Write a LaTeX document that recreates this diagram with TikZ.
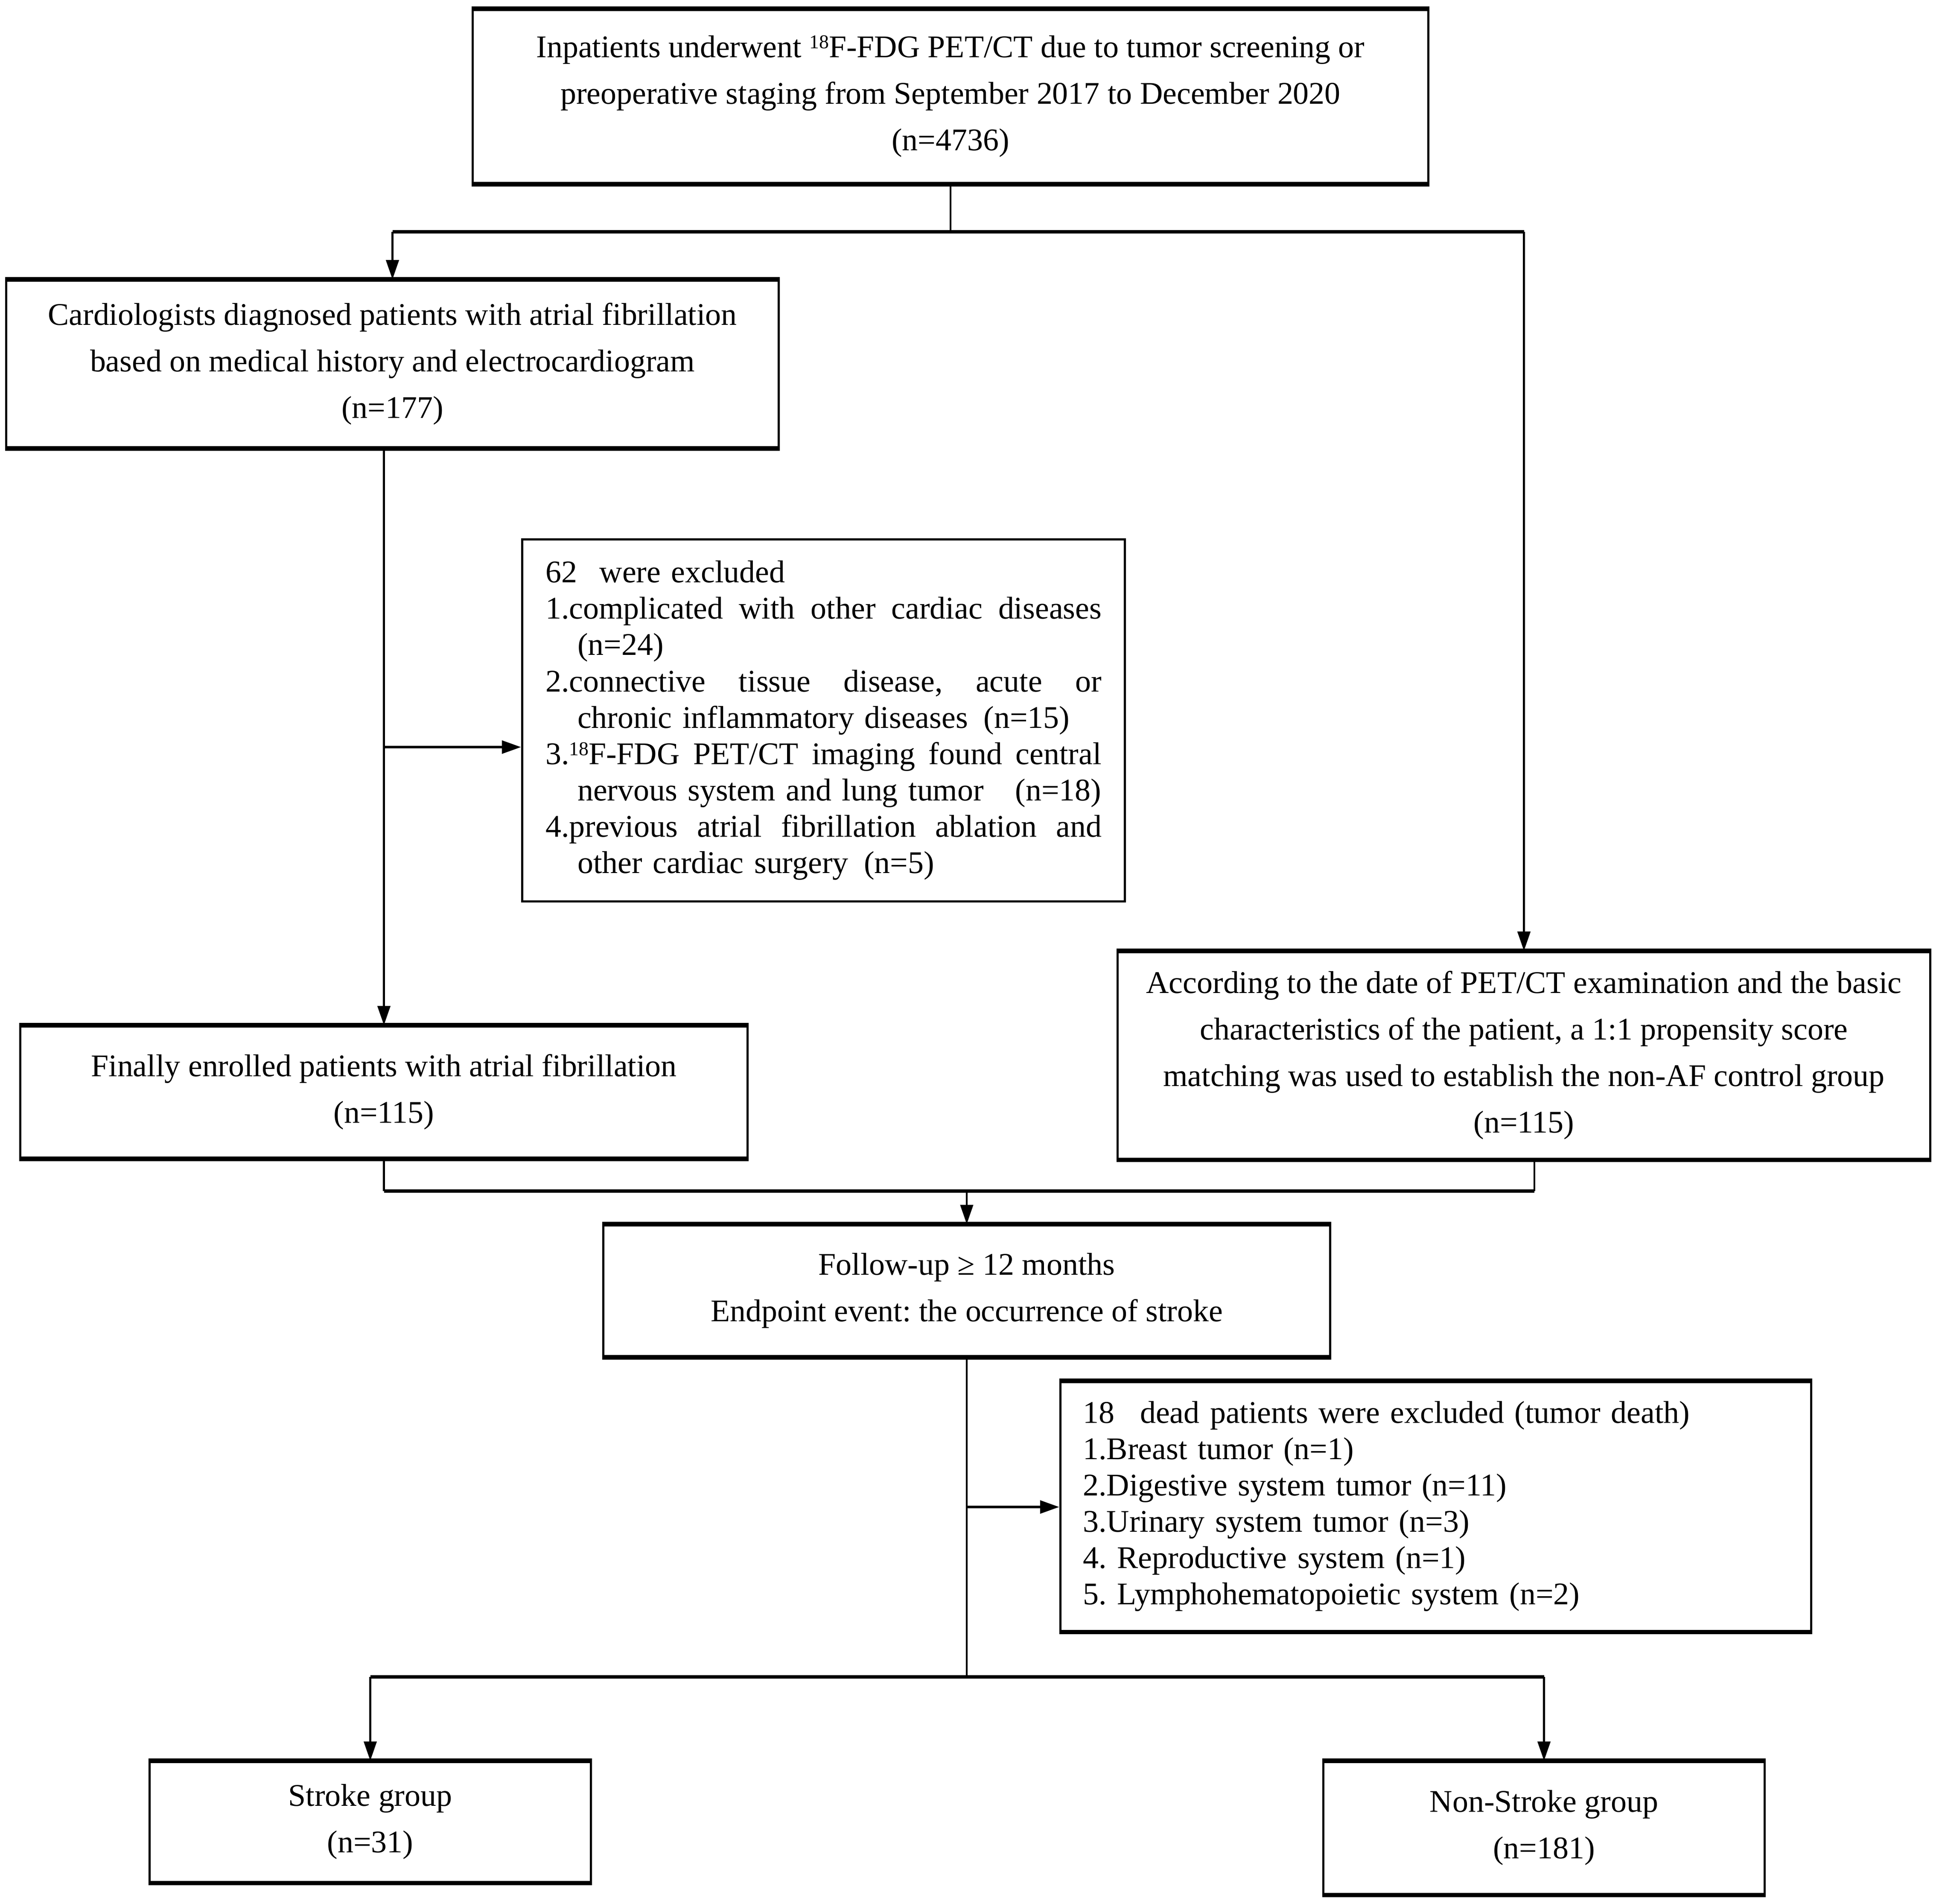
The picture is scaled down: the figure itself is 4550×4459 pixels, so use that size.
\documentclass[tikz,border=0pt]{standalone}
\usepackage{fontspec}
\setmainfont{Liberation Serif}
\usetikzlibrary{arrows.meta}
\frenchspacing
\newcommand{\supn}[1]{\raisebox{0.62ex}{\fontsize{13}{13}\selectfont #1}}
\newcommand{\jline}[1]{\leavevmode\hbox to 13.02cm{#1}}
\newcommand{\tbedges}[1]{\draw[edgeline] (#1.north west) -- (#1.north east) (#1.south west) -- (#1.south east);}
\begin{document}
\begin{tikzpicture}[x=0.01cm, y=-0.01cm,
  box/.style={draw, line width=1.5pt, inner sep=0pt, align=center, font=\fontsize{21}{31}\selectfont},
  listbox/.style={draw, line width=1.5pt, inner ysep=0pt, align=left, font=\fontsize{21}{24.2}\selectfont},
  vln/.style={line width=1.2pt},
  hln/.style={line width=2.4pt},
  edgeline/.style={line width=2.8pt},
  arr/.style={vln, -{Triangle[length=0.45cm,width=0.3cm]}},
  harr/.style={line width=1.8pt, -{Triangle[length=0.45cm,width=0.3cm]}}]
\fill[white] (0,0) rectangle (4550,4459);
\useasboundingbox (0,0) rectangle (4550,4459);

\node[box, minimum width=22.38cm, minimum height=4.06cm] (top) at (2227,226)
  {Inpatients underwent \supn{18}F-FDG PET/CT due to tumor screening or\\
   preoperative staging from September 2017 to December 2020\\
   (n=4736)};
\node[box, minimum width=18.09cm, minimum height=3.91cm] (card) at (919.5,852.5)
  {Cardiologists diagnosed patients with atrial fibrillation\\
   based on medical history and electrocardiogram\\
   (n=177)};
\node[listbox, minimum width=14.11cm, minimum height=8.47cm, text width=13.02cm, inner xsep=0.545cm] (excl) at (1929.5,1687.5)
  {62\hspace{15pt}were excluded\\
   \jline{1.complicated\hfill with\hfill other\hfill cardiac\hfill diseases}\\
   \hspace*{0.75cm}(n=24)\\
   \jline{2.connective\hfill tissue\hfill disease,\hfill acute\hfill or}\\
   \hspace*{0.75cm}chronic inflammatory diseases\enspace(n=15)\\
   \jline{3.\supn{18}F-FDG\hfill PET/CT\hfill imaging\hfill found\hfill central}\\
   \hspace*{0.75cm}nervous system and lung tumor\quad(n=18)\\
   \jline{4.previous\hfill atrial\hfill fibrillation\hfill ablation\hfill and}\\
   \hspace*{0.75cm}other cardiac surgery\enspace(n=5)};
\node[box, minimum width=17.03cm, minimum height=3.08cm] (fin) at (899.5,2558)
  {Finally enrolled patients with atrial fibrillation\\
   (n=115)};
\node[box, minimum width=19.03cm, minimum height=4.84cm] (acc) at (3570.5,2472)
  {According to the date of PET/CT examination and the basic\\
   characteristics of the patient, a 1:1 propensity score\\
   matching was used to establish the non-AF control group\\
   (n=115)};
\node[box, minimum width=17.02cm, minimum height=3.07cm] (follow) at (2265,3023.5)
  {Follow-up ≥ 12 months\\
   Endpoint event: the occurrence of stroke};
\node[listbox, minimum width=17.58cm, minimum height=5.83cm, text width=16.52cm, inner xsep=0.53cm] (death) at (3364,3528.5)
  {18\hspace{17pt}dead patients were excluded (tumor death)\\
   1.Breast tumor (n=1)\\
   2.Digestive system tumor (n=11)\\
   3.Urinary system tumor (n=3)\\
   4. Reproductive system (n=1)\\
   5. Lymphohematopoietic system (n=2)};
\node[box, minimum width=10.33cm, minimum height=2.81cm] (stroke) at (867.5,4267.5)
  {Stroke group\\ (n=31)};
\node[box, minimum width=10.33cm, minimum height=3.09cm] (nonstroke) at (3617.5,4281.5)
  {Non-Stroke group\\ (n=181)};

\tbedges{top}
\tbedges{card}
\tbedges{fin}
\tbedges{acc}
\tbedges{follow}
\tbedges{death}
\tbedges{stroke}
\tbedges{nonstroke}

% first split
\coordinate (s1) at (2229,543);
\draw[vln] (top.south) -- (top.south |- s1);
\draw[hln] (card.north |- s1) -- (acc.north |- s1);
\draw[arr] (card.north |- s1) -- (card.north);
\draw[arr] (acc.north |- s1) -- (acc.north);

% AF branch
\draw[arr] (fin.north |- card.south) -- (fin.north);
\coordinate (e1) at (899.5,1750);
\draw[harr] (e1) -- (e1 -| excl.west);

% merge
\coordinate (m) at (2265,2790);
\coordinate (accb) at (3595,2714);
\draw[hln] (fin.south |- m) -- (accb |- m);
\draw[vln] (fin.south) -- (fin.south |- m);
\draw[vln] (accb) -- (accb |- m);
\draw[arr] (m) -- (follow.north);

% follow-up to groups
\coordinate (s2) at (2265,3928);
\draw[vln] (follow.south) -- (follow.south |- s2);
\draw[hln] (stroke.north |- s2) -- (nonstroke.north |- s2);
\draw[arr] (stroke.north |- s2) -- (stroke.north);
\draw[arr] (nonstroke.north |- s2) -- (nonstroke.north);
\coordinate (d1) at (2265,3530);
\draw[harr] (d1) -- (d1 -| death.west);
\end{tikzpicture}
\end{document}
